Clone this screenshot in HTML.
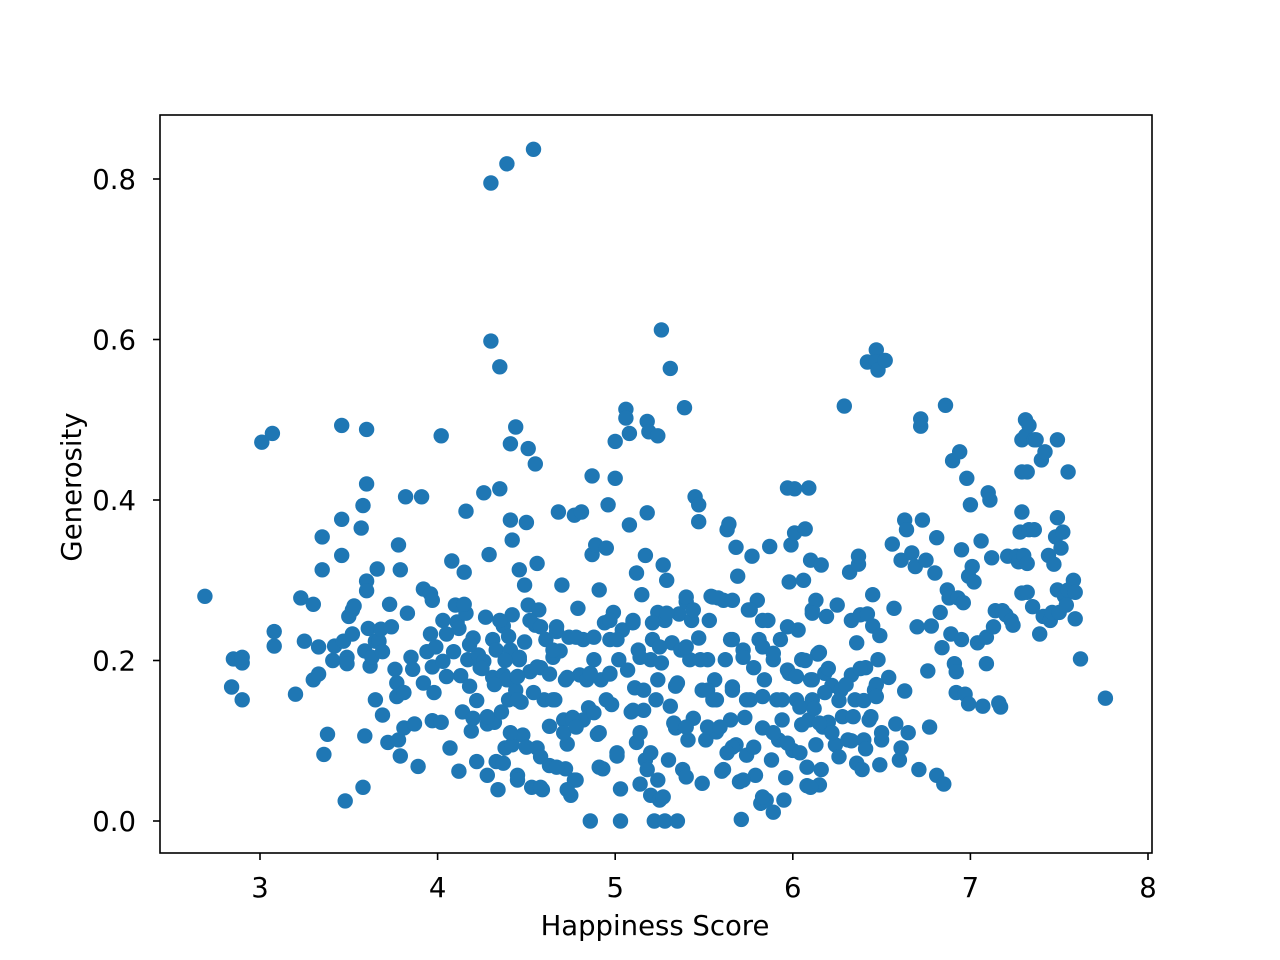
<!DOCTYPE html>
<html><head><meta charset="utf-8"><title>Happiness vs Generosity</title>
<style>html,body{margin:0;padding:0;background:#fff;}svg{display:block;font-family:"DejaVu Sans","Liberation Sans",sans-serif;}</style>
</head><body>
<svg id="chart" width="1280" height="960" viewBox="0 0 1280 960" xmlns="http://www.w3.org/2000/svg">
<rect x="0" y="0" width="1280" height="960" fill="#fff"/>
<g id="points"></g>
<g id="axes"></g>
</svg>
<script>
const xTicks = [3,4,5,6,7,8];
const yTicks = [0.0,0.2,0.4,0.6,0.8];
const yTickLabels = ["0.0","0.2","0.4","0.6","0.8"];
const happiness = [2.69,2.84,2.85,2.90,2.90,2.90,3.01,3.07,3.08,3.08,3.20,3.23,3.25,3.30,3.30,3.33,3.33,3.35,3.35,3.36,3.38,3.41,3.42,3.46,3.46,3.46,3.47,3.48,3.49,3.49,3.50,3.52,3.52,3.53,3.57,3.58,3.58,3.59,3.59,3.60,3.60,3.60,3.60,3.61,3.62,3.63,3.65,3.65,3.66,3.67,3.68,3.69,3.69,3.72,3.73,3.74,3.76,3.78,3.77,3.77,3.78,3.79,3.79,3.81,3.81,3.82,3.83,3.85,3.86,3.87,3.89,3.91,3.92,3.92,3.94,3.96,3.96,3.97,3.97,3.97,3.98,3.99,4.02,4.02,4.03,4.03,4.05,4.07,4.08,4.09,4.10,4.11,4.12,4.13,4.14,4.15,4.16,4.16,4.17,4.18,4.19,4.20,4.20,4.22,4.23,4.24,4.26,4.26,4.27,4.28,4.28,4.29,4.30,4.30,4.31,4.31,4.32,4.33,4.33,4.34,4.35,4.35,4.36,4.37,4.37,4.38,4.39,4.40,4.41,4.41,4.41,4.42,4.42,4.44,4.44,4.45,4.46,4.46,4.47,4.48,4.49,4.49,4.50,4.51,4.51,4.52,4.53,4.54,4.55,4.55,4.56,4.56,4.57,4.58,4.59,4.60,4.61,4.63,4.63,4.63,4.65,4.66,4.67,4.68,4.69,4.70,4.71,4.72,4.72,4.73,4.74,4.75,4.76,4.77,4.77,4.79,4.80,4.81,4.82,4.82,4.84,4.85,4.86,4.87,4.87,4.88,4.89,4.90,4.91,4.92,4.93,4.94,4.95,4.96,4.97,4.97,4.98,4.99,5.00,5.00,5.01,5.02,5.03,5.03,5.04,5.06,5.06,5.07,5.08,5.08,5.09,5.10,5.11,5.12,5.12,5.13,5.14,5.15,5.16,5.17,5.17,5.18,5.18,5.19,5.20,5.20,5.21,5.22,5.23,5.24,5.24,5.25,5.26,5.26,5.27,5.28,5.28,5.29,5.30,5.31,5.31,5.32,5.34,5.34,5.35,5.36,5.37,5.38,5.39,5.40,5.41,5.42,5.43,5.44,5.45,5.47,5.47,5.47,5.49,5.49,5.51,5.52,5.53,5.54,5.55,5.56,5.57,5.58,5.60,5.61,5.62,5.63,5.64,5.65,5.66,5.66,5.68,5.68,5.69,5.70,5.71,5.72,5.73,5.74,5.75,5.76,5.77,5.78,5.79,5.80,5.81,5.82,5.83,5.84,5.85,5.86,5.87,5.88,5.89,5.89,5.91,5.92,5.93,5.94,5.95,5.96,5.97,5.97,5.98,5.99,6.00,6.01,6.01,6.02,6.03,6.05,6.06,6.07,6.08,6.09,6.09,6.10,6.11,6.11,6.13,6.13,6.14,6.15,6.16,6.16,6.17,6.18,6.19,6.20,6.22,6.24,6.25,6.27,6.28,6.29,6.31,6.32,6.33,6.33,6.35,6.36,6.36,6.37,6.37,6.38,6.39,6.40,6.41,6.42,6.42,6.43,6.45,6.45,6.46,6.47,6.47,6.48,6.48,6.49,6.49,6.50,6.52,6.54,6.56,6.57,6.58,6.60,6.61,6.61,6.63,6.63,6.64,6.65,6.67,6.69,6.70,6.71,6.72,6.72,6.73,6.75,6.76,6.77,6.78,6.80,6.81,6.81,6.83,6.84,6.85,6.86,6.87,6.88,6.89,6.90,6.91,6.92,6.92,6.93,6.94,6.95,6.95,6.96,6.97,6.98,6.99,6.99,7.00,7.01,7.02,7.04,7.06,7.07,7.09,7.09,7.10,7.11,7.12,7.13,7.14,7.16,7.17,7.18,7.20,7.21,7.23,7.24,7.26,7.27,7.28,7.29,7.29,7.29,7.29,7.30,7.31,7.31,7.32,7.32,7.32,7.33,7.33,7.35,7.36,7.36,7.37,7.39,7.40,7.41,7.42,7.44,7.45,7.46,7.47,7.48,7.49,7.49,7.49,7.50,7.51,7.52,7.53,7.54,7.55,7.55,7.58,7.59,7.59,7.62,7.76,
4.42,4.52,4.58,4.67,4.78,4.88,4.97,5.01,5.10,5.21,5.29,5.40,5.44,5.55,5.66,5.76,5.83,5.97,6.11,4.46,4.56,4.65,4.73,4.86,4.97,5.14,5.25,5.40,5.48,5.65,5.72,5.83,5.89,5.98,6.10,4.39,4.45,4.54,4.65,4.76,4.88,4.95,5.10,5.16,5.24,5.35,5.52,5.57,5.66,5.74,5.83,5.94,6.04,6.11,4.41,4.50,4.58,4.71,4.78,4.91,5.14,5.20,5.33,5.40,5.52,5.59,5.66,5.78,5.89,5.97,6.04,6.15,4.45,4.58,4.67,4.78,5.18,5.24,5.27,5.40,5.61,5.72,5.83,6.08,6.10,4.37,4.73,4.91,5.01,5.63,
6.05,6.12,6.18,6.22,6.26,6.30,6.34,6.38,6.40,6.44,6.47,6.50,6.26,6.33,6.41,6.20,6.15,6.02,6.07,6.47,4.12,4.18,4.25,4.32,4.38,4.22,4.28,4.35,4.05,4.15,4.40,4.45];
const generosity = [0.280,0.167,0.202,0.197,0.204,0.151,0.472,0.483,0.236,0.218,0.158,0.278,0.224,0.270,0.176,0.183,0.217,0.354,0.313,0.083,0.108,0.200,0.218,0.493,0.376,0.331,0.224,0.025,0.204,0.196,0.255,0.263,0.233,0.268,0.365,0.393,0.042,0.212,0.106,0.420,0.488,0.299,0.287,0.240,0.193,0.204,0.224,0.151,0.314,0.224,0.239,0.132,0.211,0.098,0.270,0.242,0.189,0.344,0.172,0.155,0.101,0.313,0.081,0.160,0.116,0.404,0.259,0.204,0.189,0.121,0.068,0.404,0.289,0.172,0.211,0.283,0.233,0.192,0.275,0.125,0.160,0.217,0.480,0.123,0.250,0.199,0.233,0.091,0.324,0.211,0.269,0.248,0.062,0.181,0.136,0.310,0.386,0.259,0.201,0.168,0.112,0.228,0.128,0.074,0.207,0.191,0.199,0.409,0.254,0.121,0.057,0.332,0.795,0.598,0.179,0.226,0.123,0.074,0.213,0.039,0.566,0.414,0.136,0.243,0.182,0.091,0.819,0.151,0.213,0.470,0.375,0.350,0.095,0.491,0.163,0.057,0.313,0.201,0.148,0.107,0.294,0.223,0.372,0.269,0.464,0.186,0.042,0.837,0.244,0.445,0.321,0.091,0.263,0.191,0.039,0.151,0.226,0.183,0.118,0.069,0.204,0.151,0.236,0.385,0.212,0.294,0.126,0.176,0.065,0.096,0.229,0.032,0.129,0.051,0.381,0.265,0.182,0.385,0.126,0.226,0.176,0.141,0.000,0.430,0.332,0.201,0.344,0.108,0.288,0.176,0.065,0.247,0.340,0.394,0.226,0.183,0.145,0.260,0.427,0.473,0.081,0.201,0.000,0.040,0.238,0.513,0.502,0.188,0.369,0.483,0.136,0.247,0.166,0.098,0.309,0.213,0.046,0.282,0.138,0.076,0.331,0.384,0.498,0.485,0.201,0.032,0.226,0.000,0.151,0.260,0.480,0.026,0.612,0.197,0.319,0.000,0.250,0.300,0.076,0.564,0.143,0.222,0.116,0.168,0.000,0.258,0.213,0.064,0.515,0.273,0.101,0.201,0.250,0.128,0.404,0.228,0.373,0.394,0.163,0.047,0.101,0.201,0.250,0.280,0.151,0.176,0.111,0.278,0.062,0.275,0.201,0.363,0.370,0.126,0.226,0.167,0.095,0.341,0.305,0.049,0.002,0.213,0.129,0.082,0.263,0.151,0.330,0.191,0.057,0.275,0.226,0.022,0.116,0.176,0.026,0.250,0.342,0.076,0.201,0.011,0.151,0.101,0.226,0.126,0.026,0.054,0.415,0.188,0.298,0.344,0.088,0.414,0.359,0.151,0.238,0.201,0.300,0.364,0.044,0.415,0.126,0.325,0.263,0.176,0.275,0.095,0.208,0.045,0.319,0.064,0.117,0.184,0.255,0.123,0.169,0.095,0.269,0.163,0.130,0.517,0.101,0.310,0.250,0.182,0.151,0.072,0.222,0.320,0.330,0.257,0.064,0.101,0.191,0.572,0.258,0.126,0.282,0.243,0.163,0.587,0.572,0.562,0.201,0.231,0.070,0.101,0.574,0.179,0.345,0.265,0.121,0.076,0.091,0.325,0.375,0.162,0.363,0.110,0.334,0.317,0.242,0.064,0.492,0.501,0.375,0.325,0.187,0.117,0.243,0.309,0.353,0.057,0.260,0.216,0.046,0.518,0.288,0.278,0.233,0.449,0.196,0.186,0.160,0.278,0.460,0.338,0.226,0.272,0.158,0.427,0.146,0.305,0.394,0.317,0.298,0.222,0.349,0.143,0.229,0.196,0.409,0.400,0.328,0.242,0.262,0.147,0.142,0.262,0.257,0.330,0.250,0.244,0.330,0.323,0.360,0.284,0.385,0.475,0.435,0.331,0.480,0.500,0.285,0.435,0.321,0.493,0.363,0.267,0.475,0.363,0.475,0.233,0.450,0.255,0.460,0.331,0.250,0.260,0.320,0.354,0.288,0.378,0.475,0.260,0.340,0.360,0.280,0.269,0.435,0.288,0.300,0.285,0.252,0.202,0.153,
0.257,0.250,0.242,0.242,0.229,0.229,0.250,0.226,0.250,0.247,0.259,0.279,0.263,0.279,0.275,0.263,0.250,0.242,0.259,0.204,0.192,0.213,0.179,0.184,0.184,0.204,0.217,0.217,0.201,0.226,0.204,0.217,0.209,0.184,0.176,0.176,0.151,0.160,0.151,0.126,0.135,0.151,0.138,0.163,0.176,0.172,0.163,0.151,0.163,0.151,0.155,0.151,0.142,0.151,0.110,0.092,0.080,0.110,0.117,0.110,0.110,0.085,0.122,0.117,0.117,0.117,0.092,0.092,0.110,0.097,0.085,0.122,0.051,0.042,0.067,0.051,0.064,0.051,0.030,0.055,0.064,0.051,0.030,0.067,0.042,0.072,0.039,0.067,0.085,0.085,
0.120,0.140,0.160,0.110,0.150,0.170,0.130,0.190,0.150,0.130,0.170,0.110,0.080,0.100,0.090,0.190,0.210,0.180,0.200,0.155,0.240,0.220,0.190,0.170,0.200,0.150,0.130,0.250,0.180,0.270,0.230,0.180];

const PL=160, PR=1152, PT=115, PB=853;
function xScale(v){ return 260 + (v-3)*177.6; }
function yScale(v){ return 821 - v*802.5; }
const NS="http://www.w3.org/2000/svg";
const pts=document.getElementById('points');
const n=Math.min(happiness.length,generosity.length);
for(let i=0;i<n;i++){
  const c=document.createElementNS(NS,'circle');
  c.setAttribute('cx',xScale(happiness[i]).toFixed(1));
  c.setAttribute('cy',yScale(generosity[i]).toFixed(1));
  c.setAttribute('r','7.7');
  c.setAttribute('fill','#1f77b4');
  
  
  pts.appendChild(c);
}
const ax=document.getElementById('axes');
function add(tag,attrs,text){
  const e=document.createElementNS(NS,tag);
  for(const k in attrs) e.setAttribute(k,attrs[k]);
  if(text!==undefined) e.textContent=text;
  ax.appendChild(e); return e;
}
const frame=add('rect',{x:PL,y:PT,width:PR-PL,height:PB-PT,fill:'none',stroke:'#000','stroke-width':'1.6'});


xTicks.forEach(t=>{
  const x=xScale(t);
  const l=add('line',{x1:x,x2:x,y1:PB,y2:PB+7,stroke:'#000','stroke-width':'1.6'});
  
  
  const tx=add('text',{x:x,y:PB+44,'font-size':'27.5','text-anchor':'middle',fill:'#000'},String(t));
  
  
});
yTicks.forEach((t,i)=>{
  const y=yScale(t);
  const l=add('line',{x1:PL-7,x2:PL,y1:y,y2:y,stroke:'#000','stroke-width':'1.6'});
  
  
  const tx=add('text',{x:PL-24,y:y+10,'font-size':'27.5','text-anchor':'end',fill:'#000'},yTickLabels[i]);
  
  
});
const xl=add('text',{x:655,y:935,'font-size':'27.5','text-anchor':'middle',fill:'#000'},'Happiness Score');


const yl=add('text',{x:0,y:0,'font-size':'27.5','text-anchor':'middle',fill:'#000',transform:'translate(81,487) rotate(-90)'},'Generosity');


</script>
</body></html>
